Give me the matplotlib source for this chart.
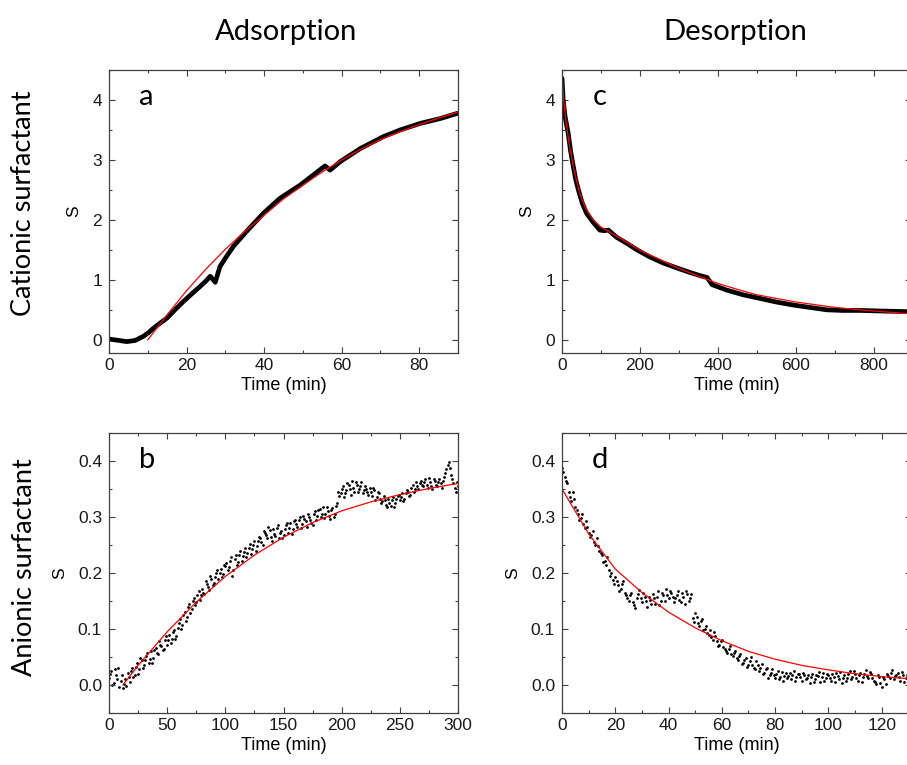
import matplotlib
matplotlib.use("Agg")
import matplotlib.pyplot as plt
from matplotlib.ticker import MultipleLocator

a_t = [0.3, 2.5, 4.6, 6.8, 8.9, 10.2, 11.4, 13.0, 14.9, 17.0, 19.2, 21.4, 23.5, 25.0, 26.1,
       27.4, 28.6, 30.4, 32.1, 35.5, 39.8, 44.1, 49.3, 52.7, 55.7, 57.0, 59.6, 64.8, 70.8,
       75.1, 80.3, 85.4, 90.0]
a_s = [0.01, -0.01, -0.03, -0.01, 0.06, 0.12, 0.19, 0.27, 0.36, 0.50, 0.64, 0.77, 0.89, 0.98, 1.06,
       0.96, 1.22, 1.40, 1.56, 1.81, 2.11, 2.36, 2.58, 2.75, 2.90, 2.83, 2.97, 3.19, 3.39,
       3.50, 3.61, 3.69, 3.78]
a_fit_t = [10, 15, 20, 25, 30, 35, 40, 45, 50, 55, 60, 65, 70, 75, 80, 85, 90]
a_fit_s = [0.0, 0.42, 0.82, 1.18, 1.51, 1.81, 2.08, 2.35, 2.58, 2.80, 3.00, 3.18, 3.34, 3.47, 3.59, 3.70, 3.80]

# panel c: cationic desorption
c_t = [0, 3, 8, 16, 22, 29, 35, 42, 52, 63, 80, 97, 108, 119, 140, 166, 195, 226, 260, 294,
       325, 354, 372, 385, 422, 465, 508, 550, 593, 636, 679, 720, 764, 820, 884, 900]
c_s = [4.36, 4.00, 3.72, 3.44, 3.15, 2.89, 2.68, 2.50, 2.28, 2.11, 1.96, 1.83, 1.82, 1.83, 1.71, 1.61,
       1.49, 1.38, 1.28, 1.20, 1.13, 1.07, 1.04, 0.92, 0.83, 0.75, 0.69, 0.63, 0.58, 0.54, 0.50,
       0.49, 0.49, 0.48, 0.47, 0.46]
c_fit_t = [0, 5, 10, 20, 30, 45, 60, 80, 100, 150, 200, 250, 300, 350, 400, 450, 500, 600, 700, 800, 900]
c_fit_s = [4.42, 3.95, 3.65, 3.20, 2.85, 2.45, 2.20, 2.00, 1.88, 1.69, 1.49, 1.34, 1.19, 1.06, 0.94,
           0.84, 0.75, 0.63, 0.54, 0.48, 0.43]

# panel b: anionic adsorption (scatter), even and odd minutes
b_t = list(range(0, 301, 2))
b_s = [0.012, 0.025, 0.003, 0.018, 0.030, 0.008, -0.006, 0.010, 0.022, 0.005,
       0.030, 0.018, 0.040, 0.028, 0.045, 0.036, 0.052, 0.040, 0.060, 0.048,
       0.066, 0.055, 0.072, 0.062, 0.080, 0.072, 0.090, 0.082, 0.098, 0.088,
       0.110, 0.100, 0.125, 0.115, 0.140, 0.128, 0.150, 0.142, 0.160, 0.152,
       0.172, 0.162, 0.180, 0.170, 0.190, 0.182, 0.200, 0.190, 0.208, 0.198,
       0.212, 0.205, 0.222, 0.195, 0.225, 0.215, 0.232, 0.222, 0.238, 0.228,
       0.244, 0.234, 0.250, 0.240, 0.258, 0.262, 0.250, 0.272, 0.262, 0.276,
       0.258, 0.270, 0.280, 0.262, 0.275, 0.268, 0.285, 0.272, 0.290, 0.278,
       0.295, 0.282, 0.300, 0.287, 0.296, 0.282, 0.300, 0.290, 0.305, 0.295,
       0.312, 0.300, 0.318, 0.305, 0.310, 0.296, 0.316, 0.305, 0.325, 0.338,
       0.350, 0.335, 0.348, 0.358, 0.340, 0.352, 0.362, 0.345, 0.355, 0.342,
       0.356, 0.345, 0.352, 0.338, 0.348, 0.335, 0.342, 0.325, 0.338, 0.322,
       0.332, 0.320, 0.335, 0.325, 0.338, 0.330, 0.342, 0.332, 0.348, 0.338,
       0.352, 0.345, 0.362, 0.350, 0.365, 0.355, 0.368, 0.352, 0.362, 0.350,
       0.365, 0.355, 0.368, 0.352, 0.372, 0.385, 0.398, 0.375, 0.360, 0.345,
       0.355]
b_t_odd = list(range(1, 300, 2))
b_s_odd = [0.020, 0.000, 0.028, 0.010, -0.004, 0.018, 0.002, -0.002, 0.015, 0.025,
           0.015, 0.032, 0.020, 0.048, 0.030, 0.044, 0.058, 0.046, 0.040, 0.062,
           0.058, 0.078, 0.070, 0.065, 0.088, 0.080, 0.075, 0.095, 0.082, 0.102,
           0.118, 0.108, 0.130, 0.122, 0.145, 0.135, 0.155, 0.148, 0.168, 0.160,
           0.165, 0.185, 0.175, 0.195, 0.178, 0.192, 0.205, 0.200, 0.192, 0.215,
           0.218, 0.210, 0.228, 0.205, 0.232, 0.220, 0.240, 0.230, 0.245, 0.235,
           0.252, 0.242, 0.258, 0.248, 0.265, 0.255, 0.275, 0.268, 0.282, 0.265,
           0.278, 0.266, 0.285, 0.272, 0.262, 0.278, 0.290, 0.280, 0.270, 0.292,
           0.288, 0.295, 0.280, 0.302, 0.292, 0.305, 0.295, 0.285, 0.310, 0.302,
           0.315, 0.306, 0.298, 0.318, 0.302, 0.312, 0.300, 0.320, 0.345, 0.342,
           0.355, 0.342, 0.360, 0.350, 0.365, 0.345, 0.358, 0.350, 0.362, 0.348,
           0.350, 0.340, 0.345, 0.352, 0.330, 0.345, 0.332, 0.328, 0.330, 0.318,
           0.325, 0.330, 0.318, 0.332, 0.340, 0.335, 0.328, 0.342, 0.345, 0.340,
           0.358, 0.350, 0.355, 0.360, 0.358, 0.362, 0.358, 0.370, 0.356, 0.368,
           0.358, 0.362, 0.360, 0.365, 0.378, 0.392, 0.388, 0.368, 0.352, 0.362]
b_fit_t = [12, 25, 50, 75, 100, 125, 150, 175, 200, 225, 250, 275, 300]
b_fit_s = [0.0, 0.035, 0.095, 0.148, 0.194, 0.232, 0.264, 0.290, 0.311, 0.327, 0.340, 0.351, 0.360]

# panel d: anionic desorption (scatter), whole and half minutes
d_t = list(range(0, 132))
d_s = [0.388, 0.372, 0.360, 0.335, 0.345, 0.318, 0.305, 0.298, 0.288, 0.292,
       0.272, 0.268, 0.255, 0.262, 0.240, 0.232, 0.222, 0.228, 0.195, 0.188,
       0.192, 0.178, 0.172, 0.185, 0.160, 0.150, 0.165, 0.142, 0.155, 0.170,
       0.148, 0.158, 0.140, 0.152, 0.162, 0.145, 0.168, 0.150, 0.160, 0.172,
       0.155, 0.165, 0.148, 0.160, 0.152, 0.165, 0.145, 0.162, 0.155, 0.120,
       0.128, 0.110, 0.115, 0.098, 0.105, 0.090, 0.085, 0.095, 0.078, 0.072,
       0.080, 0.065, 0.058, 0.070, 0.052, 0.060, 0.045, 0.055, 0.040, 0.048,
       0.035, 0.050, 0.030, 0.042, 0.025, 0.038, 0.022, 0.030, 0.018, 0.028,
       0.012, 0.025, 0.015, 0.008, 0.022, 0.016, 0.010, 0.025, 0.014, 0.020,
       0.008, 0.018, 0.012, 0.004, 0.020, 0.010, 0.016, 0.006, 0.022, 0.012,
       0.018, 0.008, 0.015, 0.022, 0.010, 0.004, 0.018, 0.012, 0.025, 0.015,
       0.020, 0.008, 0.022, 0.014, 0.026, 0.012, 0.020, 0.008, 0.002, 0.015,
       -0.003, 0.010, 0.020, 0.012, 0.026, 0.016, 0.022, 0.008, 0.018, 0.012,
       0.024, 0.014]
d_t_half = [i + 0.5 for i in range(131)]
d_s_half = [0.380, 0.365, 0.345, 0.328, 0.332, 0.312, 0.295, 0.305, 0.280, 0.282,
            0.265, 0.275, 0.250, 0.248, 0.235, 0.220, 0.215, 0.205, 0.200, 0.180,
            0.185, 0.168, 0.180, 0.165, 0.155, 0.160, 0.148, 0.138, 0.162, 0.155,
            0.165, 0.150, 0.158, 0.145, 0.155, 0.158, 0.142, 0.165, 0.150, 0.160,
            0.168, 0.158, 0.155, 0.168, 0.148, 0.158, 0.168, 0.150, 0.162, 0.112,
            0.122, 0.105, 0.118, 0.100, 0.092, 0.098, 0.080, 0.088, 0.070, 0.078,
            0.068, 0.060, 0.064, 0.055, 0.058, 0.048, 0.052, 0.038, 0.045, 0.032,
            0.042, 0.035, 0.028, 0.035, 0.030, 0.020, 0.028, 0.012, 0.022, 0.018,
            0.020, 0.010, 0.024, 0.016, 0.012, 0.022, 0.018, 0.008, 0.020, 0.014,
            0.022, 0.010, 0.018, 0.014, 0.006, 0.018, 0.024, 0.014, 0.008, 0.020,
            0.012, 0.020, 0.006, 0.016, 0.024, 0.012, 0.008, 0.020, 0.010, 0.025,
            0.012, 0.018, 0.006, 0.020, 0.016, 0.024, 0.012, 0.006, 0.018, 0.004,
            0.014, 0.002, 0.016, 0.022, 0.010, 0.018, 0.014, 0.024, 0.006, 0.018,
            0.010]
d_fit_t = [0, 10, 20, 30, 40, 50, 60, 70, 80, 90, 100, 110, 120, 131]
d_fit_s = [0.350, 0.270, 0.207, 0.165, 0.130, 0.102, 0.079, 0.060, 0.046, 0.035, 0.027, 0.020,
           0.015, 0.011]

plt.rcParams['font.family'] = ['Liberation Sans', 'DejaVu Sans']
EDGE = '#404040'

fig = plt.figure(figsize=(9.07, 7.65), dpi=100)
W, H = 907, 765


def make_ax(left, top, right, bottom):
    ax = fig.add_axes([left / W, 1 - bottom / H, (right - left) / W, (bottom - top) / H])
    for sp in ax.spines.values():
        sp.set_color(EDGE)
        sp.set_linewidth(0.9)
    ax.tick_params(which='both', direction='in', top=True, right=True, colors=EDGE,
                   labelcolor='#1a1a1a', labelsize=12.5, width=0.8)
    ax.tick_params(which='major', length=4.5)
    ax.tick_params(which='minor', length=2.5)
    ax.tick_params(axis='y', pad=5)
    ax.set_xlabel('Time (min)', fontsize=13, labelpad=3)
    ax.set_ylabel('S', fontsize=12.5, labelpad=8)
    return ax


ax_a = make_ax(109, 70, 458, 353)
ax_a.plot(a_t, a_s, color='black', lw=3.4, solid_capstyle='round')
ax_a.plot(a_fit_t, a_fit_s, color='red', lw=0.9)
ax_a.set_xlim(0, 90)
ax_a.set_ylim(-0.22, 4.5)
ax_a.xaxis.set_major_locator(MultipleLocator(20))
ax_a.xaxis.set_minor_locator(MultipleLocator(10))
ax_a.yaxis.set_major_locator(MultipleLocator(1))
ax_a.yaxis.set_minor_locator(MultipleLocator(0.5))

ax_c = make_ax(562, 70, 911, 353)
ax_c.plot(c_t, c_s, color='black', lw=3.4, solid_capstyle='round')
ax_c.plot(c_fit_t, c_fit_s, color='red', lw=0.9)
ax_c.set_xlim(0, 895)
ax_c.set_ylim(-0.22, 4.5)
ax_c.xaxis.set_major_locator(MultipleLocator(200))
ax_c.xaxis.set_minor_locator(MultipleLocator(100))
ax_c.yaxis.set_major_locator(MultipleLocator(1))
ax_c.yaxis.set_minor_locator(MultipleLocator(0.5))

ax_b = make_ax(109, 433, 458, 713)
ax_b.scatter(b_t, b_s, s=4, color='black', linewidths=0)
ax_b.scatter(b_t_odd, b_s_odd, s=4, color='black', linewidths=0)
ax_b.plot(b_fit_t, b_fit_s, color='red', lw=0.9)
ax_b.set_xlim(0, 300)
ax_b.set_ylim(-0.05, 0.45)
ax_b.xaxis.set_major_locator(MultipleLocator(50))
ax_b.xaxis.set_minor_locator(MultipleLocator(25))
ax_b.yaxis.set_major_locator(MultipleLocator(0.1))
ax_b.yaxis.set_minor_locator(MultipleLocator(0.05))

ax_d = make_ax(562, 433, 911, 713)
ax_d.scatter(d_t, d_s, s=4, color='black', linewidths=0)
ax_d.scatter(d_t_half, d_s_half, s=4, color='black', linewidths=0)
ax_d.plot(d_fit_t, d_fit_s, color='red', lw=0.9)
ax_d.set_xlim(0, 131)
ax_d.set_ylim(-0.05, 0.45)
ax_d.xaxis.set_major_locator(MultipleLocator(20))
ax_d.xaxis.set_minor_locator(MultipleLocator(10))
ax_d.yaxis.set_major_locator(MultipleLocator(0.1))
ax_d.yaxis.set_minor_locator(MultipleLocator(0.05))

for ax, letter in [(ax_a, 'a'), (ax_b, 'b'), (ax_c, 'c'), (ax_d, 'd')]:
    ax.text(0.108, 0.905, letter, transform=ax.transAxes, fontsize=21,
            family='Lato', ha='center', va='center')

fig.text(286 / W, 1 - 32 / H, 'Adsorption', fontsize=21, family='Lato', ha='center', va='center')
fig.text(735 / W, 1 - 32 / H, 'Desorption', fontsize=21, family='Lato', ha='center', va='center')
fig.text(24 / W, 1 - 203 / H, 'Cationic surfactant', fontsize=19.5, family='Lato',
         rotation=90, ha='center', va='center')
fig.text(25 / W, 1 - 567 / H, 'Anionic surfactant', fontsize=19.5, family='Lato',
         rotation=90, ha='center', va='center')

fig.savefig('out.png', dpi=100)
